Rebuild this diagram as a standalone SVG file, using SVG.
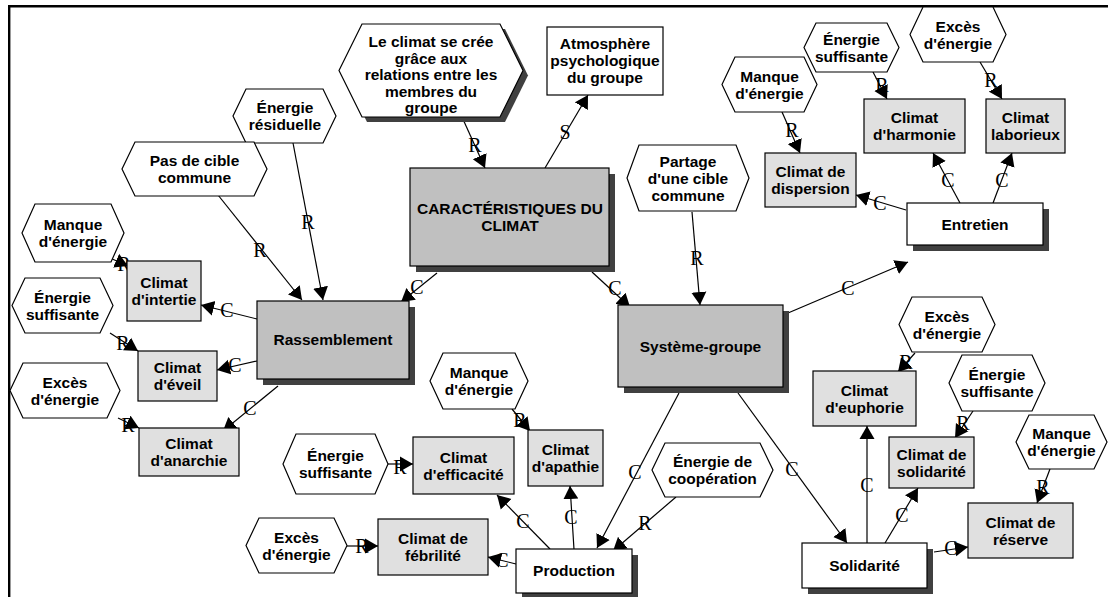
<svg xmlns="http://www.w3.org/2000/svg" width="1108" height="597" viewBox="0 0 1108 597">
  <style>
    .t { font-family: "Liberation Sans", Arial, sans-serif; font-weight: bold; font-size: 15.5px; fill: #000; text-anchor: middle; }
    .lbl { font-family: "Liberation Serif", "Times New Roman", serif; font-size: 20px; fill: #000; text-anchor: middle; dominant-baseline: central; }
    .hex { fill: #fff; stroke: #000; stroke-width: 1.2; }
    .main { fill: #c0c0c0; stroke: #000; stroke-width: 1.2; }
    .sub { fill: #e0e0e0; stroke: #000; stroke-width: 1.2; }
    .plain { fill: #fff; stroke: #000; stroke-width: 1.2; }
    .shadow { fill: #404040; }
    .edge { fill: none; stroke: #000; stroke-width: 1.2; marker-end: url(#arrow); }
  </style>
  <defs>
    <marker id="arrow" markerUnits="userSpaceOnUse" markerWidth="16" markerHeight="16" refX="13" refY="8" orient="auto">
      <path d="M0,0.5 L13,8 L0,15.5 z" fill="#000"/>
    </marker>
  </defs>

  <rect width="1108" height="597" fill="#fff"/>
  <!-- frame -->
  <path d="M9.2,597 V6.2 H1108" fill="none" stroke="#000" stroke-width="2.4"/>

  <!-- connectors -->
  <g id="connectors">
    <line class="edge" x1="462" y1="117" x2="485" y2="168"/>
    <line class="edge" x1="545" y1="168" x2="588" y2="95"/>
    <line class="edge" x1="218" y1="195" x2="302" y2="300"/>
    <line class="edge" x1="293" y1="143" x2="323" y2="300"/>
    <line class="edge" x1="437" y1="273" x2="401" y2="302"/>
    <line class="edge" x1="592" y1="272" x2="630" y2="307"/>
    <line class="edge" x1="692" y1="212" x2="700" y2="305"/>
    <line class="edge" x1="788" y1="313" x2="908" y2="262"/>
    <line class="edge" x1="679" y1="393" x2="597" y2="548"/>
    <line class="edge" x1="738" y1="393" x2="847" y2="543"/>
    <line class="edge" x1="257" y1="319" x2="201" y2="305"/>
    <line class="edge" x1="257" y1="361" x2="217" y2="370"/>
    <line class="edge" x1="278" y1="386" x2="223" y2="431"/>
    <line class="edge" x1="110" y1="258" x2="128" y2="266"/>
    <line class="edge" x1="110" y1="333" x2="138" y2="351"/>
    <line class="edge" x1="118" y1="418" x2="139" y2="428"/>
    <line class="edge" x1="388" y1="464" x2="413" y2="464"/>
    <line class="edge" x1="347" y1="546" x2="378" y2="546"/>
    <line class="edge" x1="512" y1="409" x2="530" y2="431"/>
    <line class="edge" x1="516" y1="564" x2="488" y2="557"/>
    <line class="edge" x1="550" y1="549" x2="497" y2="495"/>
    <line class="edge" x1="574" y1="549" x2="570" y2="486"/>
    <line class="edge" x1="676" y1="497" x2="613" y2="551"/>
    <line class="edge" x1="782" y1="112" x2="800" y2="153"/>
    <line class="edge" x1="873" y1="72" x2="887" y2="99"/>
    <line class="edge" x1="980" y1="62" x2="1002" y2="99"/>
    <line class="edge" x1="960" y1="203" x2="933" y2="153"/>
    <line class="edge" x1="993" y1="203" x2="1012" y2="153"/>
    <line class="edge" x1="906" y1="210" x2="856" y2="195"/>
    <line class="edge" x1="915" y1="353" x2="898" y2="372"/>
    <line class="edge" x1="973" y1="411" x2="955" y2="438"/>
    <line class="edge" x1="1050" y1="469" x2="1037" y2="503"/>
    <line class="edge" x1="867" y1="543" x2="867" y2="426"/>
    <line class="edge" x1="885" y1="543" x2="918" y2="488"/>
    <line class="edge" x1="934" y1="552" x2="968" y2="547"/>

    <text class="lbl" x="475" y="145">R</text>
    <text class="lbl" x="565" y="132">S</text>
    <text class="lbl" x="260" y="250">R</text>
    <text class="lbl" x="308" y="222">R</text>
    <text class="lbl" x="417" y="287">C</text>
    <text class="lbl" x="615" y="288">C</text>
    <text class="lbl" x="697" y="258">R</text>
    <text class="lbl" x="848" y="288">C</text>
    <text class="lbl" x="635" y="472">C</text>
    <text class="lbl" x="792" y="469">C</text>
    <text class="lbl" x="227" y="310">C</text>
    <text class="lbl" x="235" y="365">C</text>
    <text class="lbl" x="250" y="408">C</text>
    <text class="lbl" x="124" y="264">R</text>
    <text class="lbl" x="123" y="343">R</text>
    <text class="lbl" x="128" y="425">R</text>
    <text class="lbl" x="400" y="467">R</text>
    <text class="lbl" x="362" y="546">R</text>
    <text class="lbl" x="520" y="420">R</text>
    <text class="lbl" x="502" y="560">C</text>
    <text class="lbl" x="523" y="521">C</text>
    <text class="lbl" x="571" y="517">C</text>
    <text class="lbl" x="645" y="523">R</text>
    <text class="lbl" x="792" y="130">R</text>
    <text class="lbl" x="882" y="85">R</text>
    <text class="lbl" x="991" y="80">R</text>
    <text class="lbl" x="948" y="180">C</text>
    <text class="lbl" x="1002" y="180">C</text>
    <text class="lbl" x="880" y="203">C</text>
    <text class="lbl" x="906" y="362">R</text>
    <text class="lbl" x="963" y="423">R</text>
    <text class="lbl" x="1043" y="487">R</text>
    <text class="lbl" x="867" y="485">C</text>
    <text class="lbl" x="902" y="515">C</text>
    <text class="lbl" x="951" y="548">C</text>
  </g>

  <!-- central concept -->
  <g id="caracteristiques">
    <rect class="shadow" x="416" y="174" width="199" height="98"/>
    <rect class="main" x="410" y="168" width="199" height="98"/>
    <text class="t" x="510" y="214">CARACTÉRISTIQUES DU</text>
    <text class="t" x="510" y="231">CLIMAT</text>
  </g>
  <g id="le-climat-se-cree">
    <polygon class="shadow" points="367,29 505,29 528,75.5 505,122 367,122 344,75.5"/>
    <polygon class="hex" points="362,24 500,24 523,70.5 500,117 362,117 339,70.5"/>
    <text class="t" x="431" y="47">Le climat se crée</text>
    <text class="t" x="431" y="63.5">grâce aux</text>
    <text class="t" x="431" y="80">relations entre les</text>
    <text class="t" x="431" y="96.5">membres du</text>
    <text class="t" x="431" y="113">groupe</text>
  </g>
  <g id="atmosphere">
    <rect class="plain" x="547" y="27" width="116" height="68"/>
    <text class="t" x="605" y="49">Atmosphère</text>
    <text class="t" x="605" y="66">psychologique</text>
    <text class="t" x="605" y="83">du groupe</text>
  </g>

  <!-- Rassemblement branch -->
  <g id="rassemblement">
    <rect class="shadow" x="263" y="307" width="152" height="78"/>
    <rect class="main" x="257" y="301" width="152" height="78"/>
    <text class="t" x="333" y="345">Rassemblement</text>
  </g>
  <g id="energie-residuelle">
    <polygon class="hex" points="246,89 323,89 336,116 323,143 246,143 233,116"/>
    <text class="t" x="285" y="113">Énergie</text>
    <text class="t" x="285" y="130">résiduelle</text>
  </g>
  <g id="pas-de-cible">
    <polygon class="hex" points="135,142 254,142 267,169 254,196 135,196 122,169"/>
    <text class="t" x="194.5" y="166">Pas de cible</text>
    <text class="t" x="194.5" y="183">commune</text>
  </g>
  <g id="climat-intertie">
    <rect class="sub" x="127" y="261" width="74" height="60"/>
    <text class="t" x="164" y="288">Climat</text>
    <text class="t" x="164" y="305">d'intertie</text>
  </g>
  <g id="climat-eveil">
    <rect class="sub" x="138" y="351" width="79" height="50"/>
    <text class="t" x="177.5" y="373">Climat</text>
    <text class="t" x="177.5" y="390">d'éveil</text>
  </g>
  <g id="climat-anarchie">
    <rect class="sub" x="139" y="428" width="100" height="48"/>
    <text class="t" x="189" y="449">Climat</text>
    <text class="t" x="189" y="466">d'anarchie</text>
  </g>
  <g id="manque-r">
    <polygon class="hex" points="35,204 111,204 124,233 111,262 35,262 22,233"/>
    <text class="t" x="73" y="230">Manque</text>
    <text class="t" x="73" y="247">d'énergie</text>
  </g>
  <g id="suffisante-r">
    <polygon class="hex" points="25,278 100,278 113,305.5 100,333 25,333 12,305.5"/>
    <text class="t" x="62.5" y="302.5">Énergie</text>
    <text class="t" x="62.5" y="319.5">suffisante</text>
  </g>
  <g id="exces-r">
    <polygon class="hex" points="23,363 107,363 120,390.5 107,418 23,418 10,390.5"/>
    <text class="t" x="65" y="387.5">Excès</text>
    <text class="t" x="65" y="404.5">d'énergie</text>
  </g>

  <!-- Système-groupe -->
  <g id="systeme-groupe">
    <rect class="shadow" x="624" y="311" width="165" height="82"/>
    <rect class="main" x="618" y="305" width="165" height="82"/>
    <text class="t" x="700.5" y="352">Système-groupe</text>
  </g>
  <g id="partage">
    <polygon class="hex" points="639,145 736,145 749,178 736,211 639,211 627,178"/>
    <text class="t" x="688" y="166.5">Partage</text>
    <text class="t" x="688" y="183.5">d'une cible</text>
    <text class="t" x="688" y="200.5">commune</text>
  </g>

  <!-- Production branch -->
  <g id="production">
    <rect class="shadow" x="522" y="555" width="116" height="44"/>
    <rect class="plain" x="516" y="549" width="116" height="44"/>
    <text class="t" x="574" y="576">Production</text>
  </g>
  <g id="climat-efficacite">
    <rect class="sub" x="413" y="437" width="101" height="57"/>
    <text class="t" x="463.5" y="462.5">Climat</text>
    <text class="t" x="463.5" y="479.5">d'efficacité</text>
  </g>
  <g id="climat-febrilite">
    <rect class="sub" x="378" y="519" width="110" height="56"/>
    <text class="t" x="433" y="544">Climat de</text>
    <text class="t" x="433" y="561">fébrilité</text>
  </g>
  <g id="climat-apathie">
    <rect class="sub" x="528" y="430" width="75" height="56"/>
    <text class="t" x="565.5" y="455">Climat</text>
    <text class="t" x="565.5" y="472">d'apathie</text>
  </g>
  <g id="suffisante-p">
    <polygon class="hex" points="296,434 375,434 388,464 375,494 296,494 283,464"/>
    <text class="t" x="335.5" y="461">Énergie</text>
    <text class="t" x="335.5" y="478">suffisante</text>
  </g>
  <g id="exces-p">
    <polygon class="hex" points="259,518 334,518 347,545.5 334,573 259,573 246,545.5"/>
    <text class="t" x="296.5" y="542.5">Excès</text>
    <text class="t" x="296.5" y="559.5">d'énergie</text>
  </g>
  <g id="manque-p">
    <polygon class="hex" points="443,353 515,353 528,381 515,409 443,409 430,381"/>
    <text class="t" x="479" y="378">Manque</text>
    <text class="t" x="479" y="395">d'énergie</text>
  </g>
  <g id="cooperation">
    <polygon class="hex" points="665,443 760,443 773,470 760,497 665,497 652,470"/>
    <text class="t" x="712.5" y="467">Énergie de</text>
    <text class="t" x="712.5" y="484">coopération</text>
  </g>

  <!-- Entretien branch -->
  <g id="entretien">
    <rect class="shadow" x="913" y="209" width="136" height="42"/>
    <rect class="plain" x="907" y="203" width="136" height="42"/>
    <text class="t" x="975" y="229.5">Entretien</text>
  </g>
  <g id="climat-dispersion">
    <rect class="sub" x="765" y="153" width="91" height="54"/>
    <text class="t" x="810.5" y="177">Climat de</text>
    <text class="t" x="810.5" y="194">dispersion</text>
  </g>
  <g id="climat-harmonie">
    <rect class="sub" x="864" y="99" width="101" height="54"/>
    <text class="t" x="914.5" y="123">Climat</text>
    <text class="t" x="914.5" y="140">d'harmonie</text>
  </g>
  <g id="climat-laborieux">
    <rect class="sub" x="986" y="99" width="79" height="54"/>
    <text class="t" x="1025.5" y="123">Climat</text>
    <text class="t" x="1025.5" y="140">laborieux</text>
  </g>
  <g id="manque-e">
    <polygon class="hex" points="735,57 804,57 817,84.5 804,112 735,112 722,84.5"/>
    <text class="t" x="769.5" y="81.5">Manque</text>
    <text class="t" x="769.5" y="98.5">d'énergie</text>
  </g>
  <g id="suffisante-e">
    <polygon class="hex" points="816,23 887,23 899,47.5 887,72 816,72 804,47.5"/>
    <text class="t" x="851.5" y="44.5">Énergie</text>
    <text class="t" x="851.5" y="61.5">suffisante</text>
  </g>
  <g id="exces-e">
    <polygon class="hex" points="923,7 993,7 1006,34.5 993,62 923,62 910,34.5"/>
    <text class="t" x="958" y="31.5">Excès</text>
    <text class="t" x="958" y="48.5">d'énergie</text>
  </g>

  <!-- Solidarité branch -->
  <g id="solidarite">
    <rect class="shadow" x="808" y="549" width="125" height="45"/>
    <rect class="plain" x="802" y="543" width="125" height="45"/>
    <text class="t" x="864.5" y="571">Solidarité</text>
  </g>
  <g id="climat-euphorie">
    <rect class="sub" x="813" y="371" width="103" height="55"/>
    <text class="t" x="864.5" y="395.5">Climat</text>
    <text class="t" x="864.5" y="412.5">d'euphorie</text>
  </g>
  <g id="climat-solidarite">
    <rect class="sub" x="889" y="437" width="85" height="51"/>
    <text class="t" x="931.5" y="459.5">Climat de</text>
    <text class="t" x="931.5" y="476.5">solidarité</text>
  </g>
  <g id="climat-reserve">
    <rect class="sub" x="968" y="503" width="105" height="55"/>
    <text class="t" x="1020.5" y="527.5">Climat de</text>
    <text class="t" x="1020.5" y="544.5">réserve</text>
  </g>
  <g id="exces-s">
    <polygon class="hex" points="912,297 982,297 995,324.5 982,352 912,352 899,324.5"/>
    <text class="t" x="947" y="321.5">Excès</text>
    <text class="t" x="947" y="338.5">d'énergie</text>
  </g>
  <g id="suffisante-s">
    <polygon class="hex" points="962,355 1032,355 1045,383 1032,411 962,411 949,383"/>
    <text class="t" x="997" y="380">Énergie</text>
    <text class="t" x="997" y="397">suffisante</text>
  </g>
  <g id="manque-s">
    <polygon class="hex" points="1029,415 1094,415 1107,442 1094,469 1029,469 1016,442"/>
    <text class="t" x="1061.5" y="439">Manque</text>
    <text class="t" x="1061.5" y="456">d'énergie</text>
  </g>
</svg>
